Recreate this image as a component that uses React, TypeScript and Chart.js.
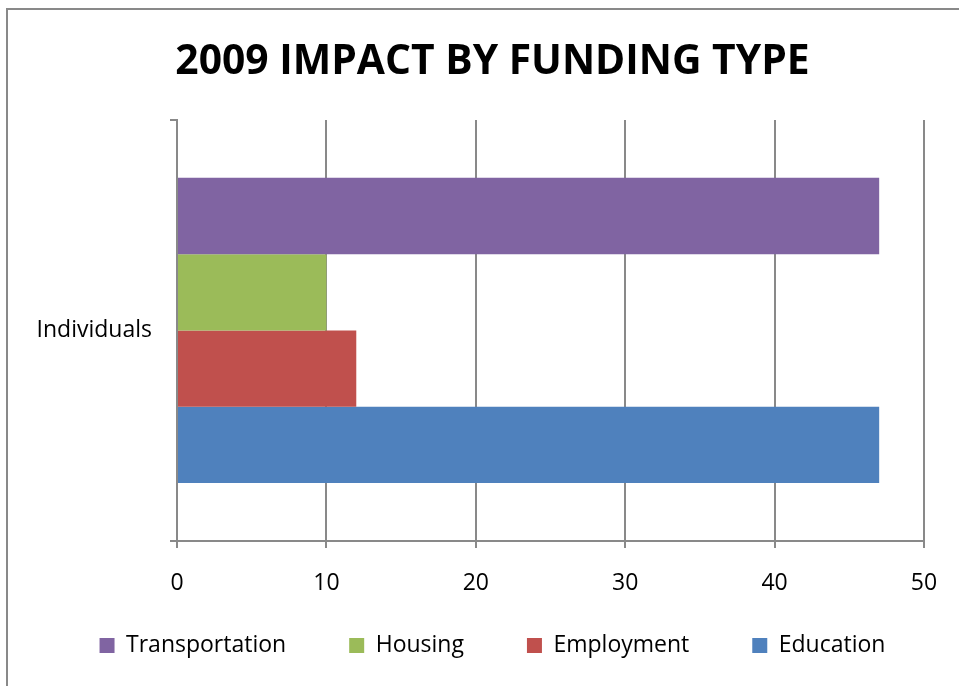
import { useEffect, useRef } from "react";
import { Chart, registerables } from "chart.js";

Chart.register(...registerables);

const chartTitle = "2009 IMPACT BY FUNDING TYPE";
const categories = ["Individuals"];
const seriesNames = ["Transportation", "Housing", "Employment", "Education"];
const transportation = [47];
const housing = [10];
const employment = [12];
const education = [47];
const seriesColors = ["#8064A2", "#9BBB59", "#C0504D", "#4F81BD"];
const xTickValues = [0, 10, 20, 30, 40, 50];

const FONT = "'Open Sans', 'DejaVu Sans', sans-serif";
const GRID = "#898989";
const LEGEND_LIFT = 30;

const legendLift = {
  id: "legendLift",
  afterLayout(chart: any) {
    const lg = chart.legend;
    if (lg) {
      lg.top -= LEGEND_LIFT;
    }
  },
};

export default function App() {
  const ref = useRef<HTMLCanvasElement | null>(null);

  useEffect(() => {
    if (!ref.current) return;
    const seriesValues = [transportation, housing, employment, education];
    const chart = new Chart(ref.current, {
      type: "bar",
      data: {
        labels: categories,
        datasets: seriesNames.map((name, i) => ({
          label: name,
          data: seriesValues[i],
          backgroundColor: seriesColors[i],
          borderWidth: 0,
          categoryPercentage: 0.725,
          barPercentage: 1,
        })),
      },
      plugins: [legendLift],
      options: {
        indexAxis: "y",
        responsive: false,
        animation: false,
        layout: { padding: { left: 0, right: 15, top: 0, bottom: 0 } },
        plugins: {
          title: {
            display: true,
            text: chartTitle,
            color: "#000",
            font: { family: FONT, size: 40.8, weight: "bold" },
            padding: { top: 38, bottom: 33 },
          },
          legend: {
            position: "bottom",
            maxHeight: 85,
            labels: {
              boxWidth: 15,
              boxHeight: 15,
              padding: 63,
              color: "#000",
              font: { family: FONT, size: 23 },
            },
          },
          tooltip: { enabled: false },
        },
        scales: {
          x: {
            min: 0,
            max: 50,
            afterBuildTicks: (s: any) => {
              s.ticks = xTickValues.map((v) => ({ value: v }));
            },
            afterFit: (s: any) => {
              s.height = 60;
              s.paddingRight = 76;
            },
            ticks: {
              padding: 22,
              color: "#000",
              font: { family: FONT, size: 23 },
            },
            grid: { color: GRID, lineWidth: 2, tickLength: 7 },
            border: { color: GRID, width: 2 },
          },
          y: {
            afterFit: (s: any) => {
              s.width = 177;
            },
            ticks: {
              padding: 18,
              color: "#000",
              font: { family: FONT, size: 23 },
            },
            grid: { drawOnChartArea: false, color: GRID, lineWidth: 2, tickLength: 7 },
            border: { color: GRID, width: 2 },
          },
        },
      },
    });
    return () => chart.destroy();
  }, []);

  return (
    <div
      style={{
        position: "fixed",
        left: 0,
        top: 0,
        width: 959,
        height: 686,
        overflow: "hidden",
        background: "#fff",
      }}
    >
      <div
        style={{
          position: "absolute",
          left: 6,
          top: 8,
          width: 1100,
          height: 1000,
          border: `2px solid ${GRID}`,
        }}
      />
      <canvas
        ref={ref}
        width={1000}
        height={686}
        style={{ position: "absolute", left: 0, top: 0, width: 1000, height: 686 }}
      />
    </div>
  );
}
